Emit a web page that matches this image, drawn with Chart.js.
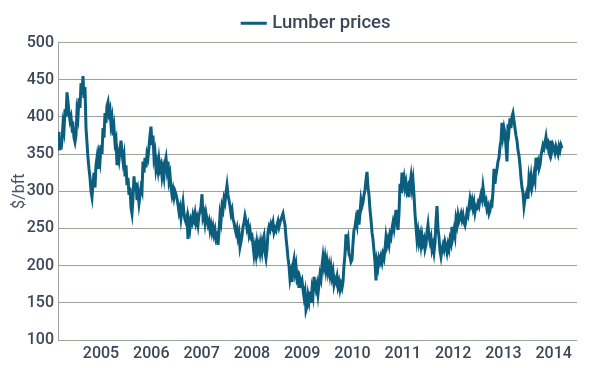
<!DOCTYPE html>
<html lang="en">
<head>
  <meta charset="UTF-8" />
  <title>Lumber prices</title>
  <script src="https://cdn.jsdelivr.net/npm/chart.js"></script>
  <style>
    html, body { margin: 0; padding: 0; background: #fff; }
    #wrap { width: 590px; height: 368px; }
  </style>
</head>
<body>
  <div id="wrap"><canvas id="lumberChart" width="590" height="368"></canvas></div>
  <script>
    // weekly lumber prices ($/bft), grouped by year
    const p2004 = [380,355,372,356,368,390,382,410,400,433,420,405,395,400,385,388,372,366,375,408,400,425,412,445,430,455,425,440,385,365,345,330,318,300,292,310,325,305,335,345,330,348,340];
    const p2005 = [362,350,385,372,405,392,415,420,405,410,390,398,375,385,365,370,335,350,342,355,368,352,340,348,320,335,308,318,295,305,278,270,290,320,300,312,288,298,284,295,305,300,340,325,345,332,350,345,360,375,387];
    const p2006 = [362,375,345,352,330,338,328,342,330,335,320,330,320,338,345,330,340,315,322,305,295,302,292,300,296,290,282,272,278,264,275,285,270,262,258,265,236,258,250,262,258,268,262,270,258,264,255,268,272,280];
    const p2007 = [296,265,270,258,270,262,255,260,248,255,245,252,242,248,236,240,228,245,268,260,280,275,290,285,298,308,295,288,280,270,275,262,258,250,244,250,238,244,225,232,240,252,258,267,260,250,255,242,248,238];
    const p2008 = [240,228,215,225,215,230,220,228,218,230,220,235,240,218,210,222,245,252,248,256,252,258,245,250,247,255,260,252,258,262,266,270,262,255,238,225,210,200,182,190,178,200,208,192,200,182,186,170,182,176,180];
    const p2009 = [168,158,165,140,145,160,152,165,150,168,160,185,175,168,175,162,175,188,182,200,212,200,210,195,205,192,200,188,198,185,192,175,182,178,185,172,178,168,175,170,178,200,215,242,230,236,215,212,205,208];
    const p2010 = [230,248,252,262,255,275,255,270,288,280,285,295,302,315,326,305,295,275,262,245,235,220,205,180,205,198,210,205,212,205,215,210,222,238,228,235,228,242,238,250,258,250,262,275,258,248,270,310,298,325];
    const p2011 = [310,318,305,312,300,305,292,310,320,305,315,295,270,252,235,245,232,240,228,240,230,235,222,228,245,255,240,232,238,222,228,218,230,260,280,250,238,220,212,222,228,222,232,226,218,228,222,235,230,252,240];
    const p2012 = [248,240,262,255,268,260,265,270,262,268,258,254,262,272,268,280,290,282,288,278,285,272,280,278,284,280,290,296,290,306,295,285,288,276,280,270,274,284,282,300,330,310,322,330,340,345,360,368,392,375];
    const p2013 = [385,378,360,340,390,382,398,385,400,405,395,385,375,368,355,348,335,318,305,298,280,290,295,300,290,318,310,320,305,312,322,315,345,335,340,330,335,348,355,362,358,365,373,362,365,352,348,368,355,362];
    const p2014 = [358,352,360,355,350,360,355,362,358];

    const prices = [].concat(p2004, p2005, p2006, p2007, p2008, p2009, p2010, p2011, p2012, p2013, p2014);
    const firstWeek = 2004.145;     // early February 2004
    const weekStep = 0.01988;       // one observation per week, in years
    const axisStart = 2004.145;
    const axisEnd = 2014.463;
    const yTicks = [100, 150, 200, 250, 300, 350, 400, 450, 500];

    const points = prices.map((v, i) => ({ x: firstWeek + i * weekStep, y: v }));

    const ink = '#3b4757';
    const gridCol = '#9ba49b';
    const tickFont = { family: 'Roboto', size: 16, weight: '500' };

    new Chart(document.getElementById('lumberChart').getContext('2d'), {
      type: 'line',
      data: {
        datasets: [{
          label: 'Lumber prices',
          data: points,
          borderColor: '#0c5e7e',
          backgroundColor: '#0c5e7e',
          borderWidth: 3,
          pointRadius: 0,
          tension: 0
        }]
      },
      options: {
        responsive: false,
        animation: false,
        layout: { padding: { left: 0, right: 13, top: 4, bottom: 0 } },
        plugins: {
          legend: {
            position: 'top',
            fullSize: false,
            labels: {
              usePointStyle: true,
              pointStyle: 'line',
              boxWidth: 29,
              color: ink,
              padding: 10,
              font: { family: 'Roboto', size: 18.5, weight: '500' }
            }
          },
          tooltip: { enabled: false }
        },
        scales: {
          x: {
            type: 'linear',
            min: axisStart,
            max: axisEnd,
            grid: { display: false, drawTicks: false },
            border: { display: false },
            afterFit: s => { s.height = 28; },
            ticks: {
              stepSize: 1,
              includeBounds: false,
              maxRotation: 0,
              padding: 4,
              color: ink,
              font: tickFont,
              callback: v => String(v)
            }
          },
          y: {
            min: 100,
            max: 500,
            afterFit: s => { s.width = 58; },
            afterBuildTicks: s => { s.ticks = yTicks.map(v => ({ value: v })); },
            grid: { color: gridCol, drawTicks: false, lineWidth: 1 },
            border: { display: true, color: '#a0a0a0' },
            title: {
              display: true,
              text: '$/bft',
              color: '#465262',
              font: { family: 'Roboto', size: 16 },
              padding: { top: 10, bottom: 0 }
            },
            ticks: {
              padding: 4,
              color: ink,
              font: tickFont
            }
          }
        }
      }
    });
  </script>
</body>
</html>
